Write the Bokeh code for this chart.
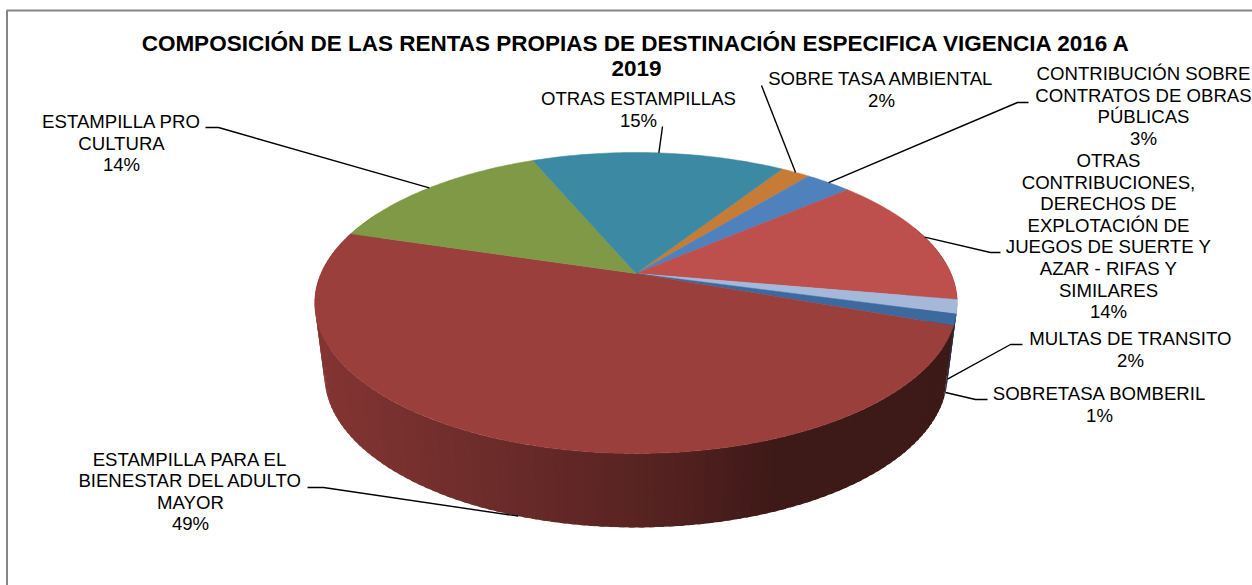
import math
from bokeh.plotting import figure
from bokeh.embed import file_html
from bokeh.resources import INLINE
from bokeh.core.properties import value

# ---- data (clockwise, starting at the orange slice)
categories = ["SOBRE TASA AMBIENTAL", "CONTRIBUCIÓN SOBRE CONTRATOS DE OBRAS PÚBLICAS",
              "OTRAS CONTRIBUCIONES, DERECHOS DE EXPLOTACIÓN DE JUEGOS DE SUERTE Y AZAR - RIFAS Y SIMILARES",
              "MULTAS DE TRANSITO", "SOBRETASA BOMBERIL", "ESTAMPILLA PARA EL BIENESTAR DEL ADULTO MAYOR",
              "ESTAMPILLA PRO CULTURA", "OTRAS ESTAMPILLAS"]
shares = [1.8, 2.8, 14.1, 1.5, 1.2, 49.2, 14.0, 15.4]
percent_labels = ["2%", "3%", "14%", "2%", "1%", "49%", "14%", "15%"]
colors = ["#C67C36", "#4F81BD", "#BD4F4C", "#A6B8DA", "#3D6A9E", "#9A3F3C", "#7F9946", "#3B89A3"]
title_lines = ["COMPOSICIÓN DE LAS RENTAS PROPIAS DE DESTINACIÓN ESPECIFICA VIGENCIA 2016 A", "2019"]

# ---- layout: wrapped label lines, centre x, first line y
label_lines = [
    (["SOBRE TASA AMBIENTAL"], 881, 78),
    (["CONTRIBUCIÓN SOBRE", "CONTRATOS DE OBRAS", "PÚBLICAS"], 1143, 73),
    (["OTRAS", "CONTRIBUCIONES,", "DERECHOS DE", "EXPLOTACIÓN DE", "JUEGOS DE SUERTE Y", "AZAR - RIFAS Y", "SIMILARES"], 1108, 160),
    (["MULTAS DE TRANSITO"], 1130, 338),
    (["SOBRETASA BOMBERIL"], 1099, 393),
    (["ESTAMPILLA PARA EL", "BIENESTAR DEL ADULTO", "MAYOR"], 190, 458.5),
    (["ESTAMPILLA PRO", "CULTURA"], 121, 121),
    (["OTRAS ESTAMPILLAS"], 638, 98),
]
elbows = [
    [(761, 85)],
    [(1017, 102), (1028, 102)],
    [(990, 252), (1000, 252)],
    [(1010, 344), (1022, 344)],
    [(975, 399), (987, 399)],
    [(323, 487), (307, 487)],
    [(218, 127), (205, 127)],
    [(662, 126)],
]
anchor_on_base = [False, False, False, True, True, True, False, False]
START = 32.7          # degrees clockwise from the back of the pie
LINE_H = 21.6
K = -0.196            # perspective
TOP = dict(x=635.5, y=273, a=315.0, b=144.7)
BASE = dict(x=635.5, y=345, a=305.5, b=146.3)


def project(theta, m):
    t = math.radians(theta)
    u, v = math.sin(t), -math.cos(t)
    w = 1 + K * v
    return m["x"] + m["a"] * u / w, m["y"] + m["b"] * v / w


def shade(x):
    if x < 640:
        return 0.85 + (0.57 - 0.85) * (x - 320) / 320
    return max(0.40, 0.57 + (0.40 - 0.57) * (x - 640) / 140)


def scaled(hex_color, f):
    return "#%02x%02x%02x" % tuple(int(int(hex_color[i:i + 2], 16) * f) for i in (1, 3, 5))


p = figure(width=1252, height=585, x_range=(0, 1252), y_range=(585, 0), output_backend="svg",
           toolbar_location=None, min_border=0, outline_line_color=None,
           background_fill_color="white", border_fill_color="white",
           styles={"position": "absolute", "left": "0px", "top": "0px"})
p.axis.visible = False
p.grid.visible = False

# slice limits
limits = []
a = START
for s in shares:
    limits.append((a, a + s * 3.6))
    a += s * 3.6

# side wall, strip by strip; strips overlap the next one so no seams show
sx, sy, sc = [], [], []
for (a0, a1), c in zip(limits, colors):
    th = a0
    while th < a1:
        nx = min(th + 1.5, a1)
        over = min(nx + 0.8, a1)
        if (th % 360) > 70 and (th % 360) < 295:
            x1, y1 = project(th, TOP)
            x2, y2 = project(over, TOP)
            x3, y3 = project(over, BASE)
            x4, y4 = project(th, BASE)
            sx.append([x1, x2, x3, x4])
            sy.append([y1, y2, y3, y4])
            sc.append(scaled(c, shade((x1 + x2 + x3 + x4) / 4)))
        th = nx
p.patches(sx, sy, fill_color=sc, line_color=None)

# top face
tx, ty = [], []
for a0, a1 in limits:
    n = max(3, int((a1 - a0) / 1.0))
    pts = [project(a0 + (a1 - a0) * i / n, TOP) for i in range(n + 1)]
    tx.append([TOP["x"]] + [q[0] for q in pts])
    ty.append([TOP["y"]] + [q[1] for q in pts])
p.patches(tx, ty, fill_color=colors, line_color=colors, line_width=0.5)

# leader lines
for (a0, a1), elbow, on_base in zip(limits, elbows, anchor_on_base):
    ax, ay = project((a0 + a1) / 2, BASE if on_base else TOP)
    p.line([ax] + [e[0] for e in elbow], [ay] + [e[1] for e in elbow], line_color="black", line_width=1.4)

# labels
lx, ly, lt = [], [], []
for (lines, cx, y0), pct in zip(label_lines, percent_labels):
    for i, t in enumerate(lines + [pct]):
        lx.append(cx)
        ly.append(y0 + i * LINE_H)
        lt.append(t)
p.text(lx, ly, lt, text_font=value("Liberation Sans"), text_font_size="18.6px", text_color="black",
       text_align="center", text_baseline="middle")

p.text([636, 636], [43, 68], title_lines, text_font=value("Liberation Sans"), text_font_size="22.5px",
       text_font_style="bold", text_color="black", text_align="center", text_baseline="middle")

# chart frame (cut by the picture on the right and at the bottom)
p.line([6.5, 6.5, 1252], [585, 10, 10], line_color="#868686", line_width=2)

open("out.html", "w").write(file_html(p, INLINE))
